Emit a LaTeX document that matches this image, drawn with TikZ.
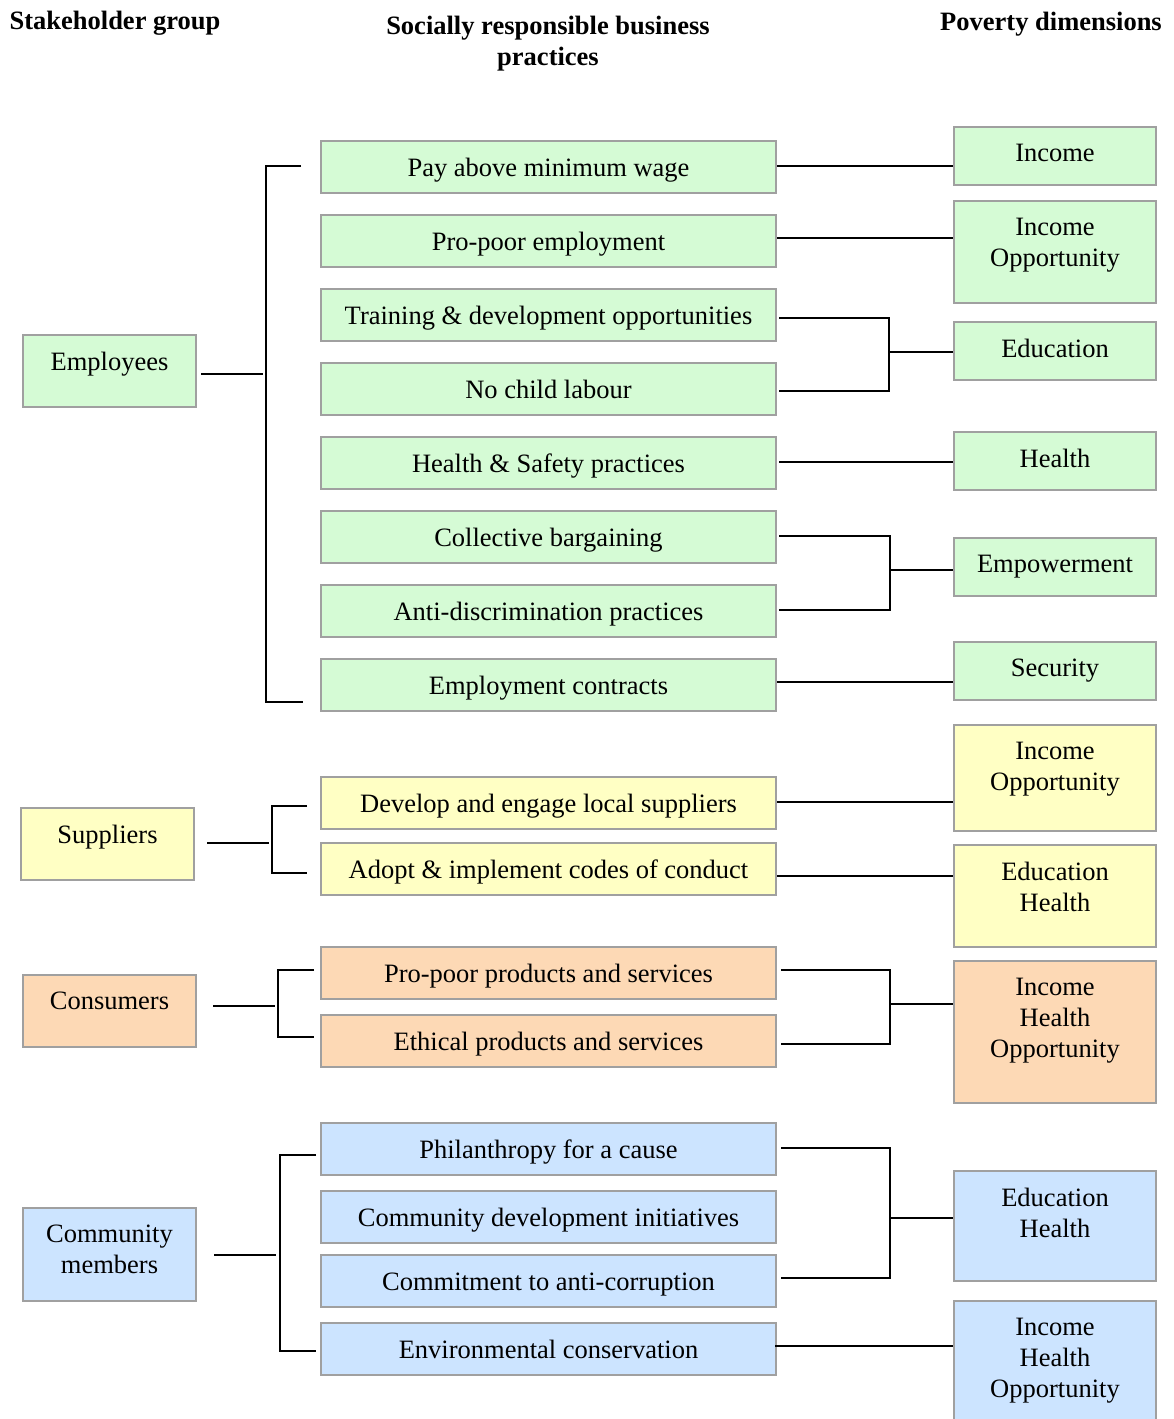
\documentclass[tikz,border=0pt]{standalone}
\usepackage{fontspec}
\setmainfont{Liberation Serif}
\usetikzlibrary{calc}
\definecolor{cg}{HTML}{D5FBD5}
\definecolor{cy}{HTML}{FFFFC4}
\definecolor{co}{HTML}{FDD9B5}
\definecolor{cb}{HTML}{CCE4FF}
\definecolor{bordergray}{HTML}{A0A0A0}
\newcommand\fsz{\fontsize{26.5}{31}\selectfont}
\begin{document}
\begin{tikzpicture}[x=1pt,y=-1pt,
  box/.style={draw=bordergray, line width=2pt, inner sep=0pt, font=\fsz},
  mid/.style={box, minimum width=455pt, minimum height=52pt, text height=21pt, text depth=2.5pt},
  dim/.style={box, minimum width=202pt, anchor=north},
  grp/.style={box, minimum width=173pt, anchor=north},
  lbl/.style={anchor=north, inner sep=0pt, yshift=-17.5pt, align=center, font=\fsz},
  hdr/.style={inner sep=0pt, align=center, font=\fsz\bfseries},
  conn/.style={draw=black, line width=2pt}]
\useasboundingbox (0,0) rectangle (1174,1419);
\fill[white] (0,0) rectangle (1174,1419);

% headers
\node[hdr] (h1) at (115,23.5) {Stakeholder group};
\node[hdr] (h2) at (548,43.5) {Socially responsible business\\practices};
\node[hdr] (h3) at (1051,24.5) {Poverty dimensions};

% stakeholder groups
\node[grp, fill=cg, minimum height=72pt, label={[lbl]north:Employees}] (emp) at (109.5,334) {};
\node[grp, fill=cy, minimum height=72pt, label={[lbl]north:Suppliers}] (sup) at (107.5,807) {};
\node[grp, fill=co, minimum height=72pt, label={[lbl]north:Consumers}] (con) at (109.5,974) {};
\node[grp, fill=cb, minimum height=93pt, label={[lbl]north:{Community\\members}}] (com) at (109.5,1207) {};

% practices
\node[mid, fill=cg] (p1) at (548.5,167) {Pay above minimum wage};
\node[mid, fill=cg] (p2) at (548.5,241) {Pro-poor employment};
\node[mid, fill=cg] (p3) at (548.5,315) {Training \& development opportunities};
\node[mid, fill=cg] (p4) at (548.5,389) {No child labour};
\node[mid, fill=cg] (p5) at (548.5,463) {Health \& Safety practices};
\node[mid, fill=cg] (p6) at (548.5,537) {Collective bargaining};
\node[mid, fill=cg] (p7) at (548.5,611) {Anti-discrimination practices};
\node[mid, fill=cg] (p8) at (548.5,685) {Employment contracts};
\node[mid, fill=cy] (s1) at (548.5,803) {Develop and engage local suppliers};
\node[mid, fill=cy] (s2) at (548.5,869) {Adopt \& implement codes of conduct};
\node[mid, fill=co] (c1) at (548.5,973) {Pro-poor products and services};
\node[mid, fill=co] (c2) at (548.5,1041) {Ethical products and services};
\node[mid, fill=cb] (m1) at (548.5,1149) {Philanthropy for a cause};
\node[mid, fill=cb] (m2) at (548.5,1217) {Community development initiatives};
\node[mid, fill=cb] (m3) at (548.5,1281) {Commitment to anti-corruption};
\node[mid, fill=cb] (m4) at (548.5,1349) {Environmental conservation};

% poverty dimensions
\node[dim, fill=cg, minimum height=58pt, label={[lbl]north:Income}] (d1) at (1055,126) {};
\node[dim, fill=cg, minimum height=102pt, label={[lbl]north:{Income\\Opportunity}}] (d2) at (1055,200) {};
\node[dim, fill=cg, minimum height=58pt, label={[lbl]north:Education}] (d3) at (1055,321) {};
\node[dim, fill=cg, minimum height=58pt, label={[lbl]north:Health}] (d4) at (1055,431) {};
\node[dim, fill=cg, minimum height=58pt, label={[lbl]north:Empowerment}] (d5) at (1055,537) {};
\node[dim, fill=cg, minimum height=58pt, label={[lbl]north:Security}] (d6) at (1055,641) {};
\node[dim, fill=cy, minimum height=106pt, label={[lbl]north:{Income\\Opportunity}}] (d7) at (1055,724) {};
\node[dim, fill=cy, minimum height=102pt, label={[lbl]north:{Education\\Health}}] (d8) at (1055,844) {};
\node[dim, fill=co, minimum height=142pt, label={[lbl]north:{Income\\Health\\Opportunity}}] (d9) at (1055,960) {};
\node[dim, fill=cb, minimum height=110pt, label={[lbl]north:{Education\\Health}}] (d10) at (1055,1170) {};
\node[dim, fill=cb, minimum height=130pt, label={[lbl]north:{Income\\Health\\Opportunity}}] (d11) at (1055,1300) {};

% bracket coordinates
\coordinate (e1) at (266,166);
\coordinate (e2) at (266,702);
\coordinate (em) at (263,374);
\coordinate (st) at (272,806);
\coordinate (sb) at (272,873);
\coordinate (sm) at (269,843);
\coordinate (ct) at (278,970);
\coordinate (cbt) at (278,1037);
\coordinate (cm) at (275,1006);
\coordinate (mt) at (280,1155);
\coordinate (mb) at (280,1351);
\coordinate (mm) at (276,1255);
\coordinate (j1) at (889,352);
\coordinate (j2) at (890,570);
\coordinate (j3) at (890,1004);
\coordinate (j4) at (890,1218);

% left brackets
\draw[conn] ([xshift=4pt]emp.east |- em) -- (em);
\draw[conn] ([xshift=-19pt]p1.west |- e1) -- (e1) -- (e2) -- ([xshift=-17pt]p8.west |- e2);
\draw[conn] ([xshift=12pt]sup.east |- sm) -- (sm);
\draw[conn] ([xshift=-13pt]s1.west |- st) -- (st) -- (sb) -- ([xshift=-13pt]s2.west |- sb);
\draw[conn] ([xshift=16pt]con.east |- cm) -- (cm);
\draw[conn] ([xshift=-6pt]c1.west |- ct) -- (ct) -- (cbt) -- ([xshift=-6pt]c2.west |- cbt);
\draw[conn] ([xshift=17pt]com.east |- mm) -- (mm);
\draw[conn] ([xshift=-4pt]m1.west |- mt) -- (mt) -- (mb) -- ([xshift=-4pt]m4.west |- mb);

% right connectors
\draw[conn] ([yshift=1pt]p1.east) -- ([yshift=1pt]p1.east -| d1.west);
\draw[conn] ([yshift=3pt]p2.east) -- ([yshift=3pt]p2.east -| d2.west);
\draw[conn] ([xshift=2pt,yshift=-3pt]p3.east) -| (j1);
\draw[conn] ([xshift=2pt,yshift=-2pt]p4.east) -| (j1);
\draw[conn] (j1) -- (j1 -| d3.west);
\draw[conn] ([xshift=2pt,yshift=1pt]p5.east) -- ([yshift=1pt]p5.east -| d4.west);
\draw[conn] ([xshift=2pt,yshift=1pt]p6.east) -| (j2);
\draw[conn] ([xshift=2pt,yshift=1pt]p7.east) -| (j2);
\draw[conn] (j2) -- (j2 -| d5.west);
\draw[conn] ([yshift=3pt]p8.east) -- ([yshift=3pt]p8.east -| d6.west);
\draw[conn] ([yshift=1pt]s1.east) -- ([yshift=1pt]s1.east -| d7.west);
\draw[conn] ([yshift=-7pt]s2.east) -- ([yshift=-7pt]s2.east -| d8.west);
\draw[conn] ([xshift=4pt,yshift=3pt]c1.east) -| (j3);
\draw[conn] ([xshift=4pt,yshift=-3pt]c2.east) -| (j3);
\draw[conn] (j3) -- (j3 -| d9.west);
\draw[conn] ([xshift=4pt,yshift=1pt]m1.east) -| (j4);
\draw[conn] ([xshift=4pt,yshift=3pt]m3.east) -| (j4);
\draw[conn] (j4) -- (j4 -| d10.west);
\draw[conn] ([xshift=-2pt,yshift=3pt]m4.east) -- ([yshift=3pt]m4.east -| d11.west);
\end{tikzpicture}
\end{document}
